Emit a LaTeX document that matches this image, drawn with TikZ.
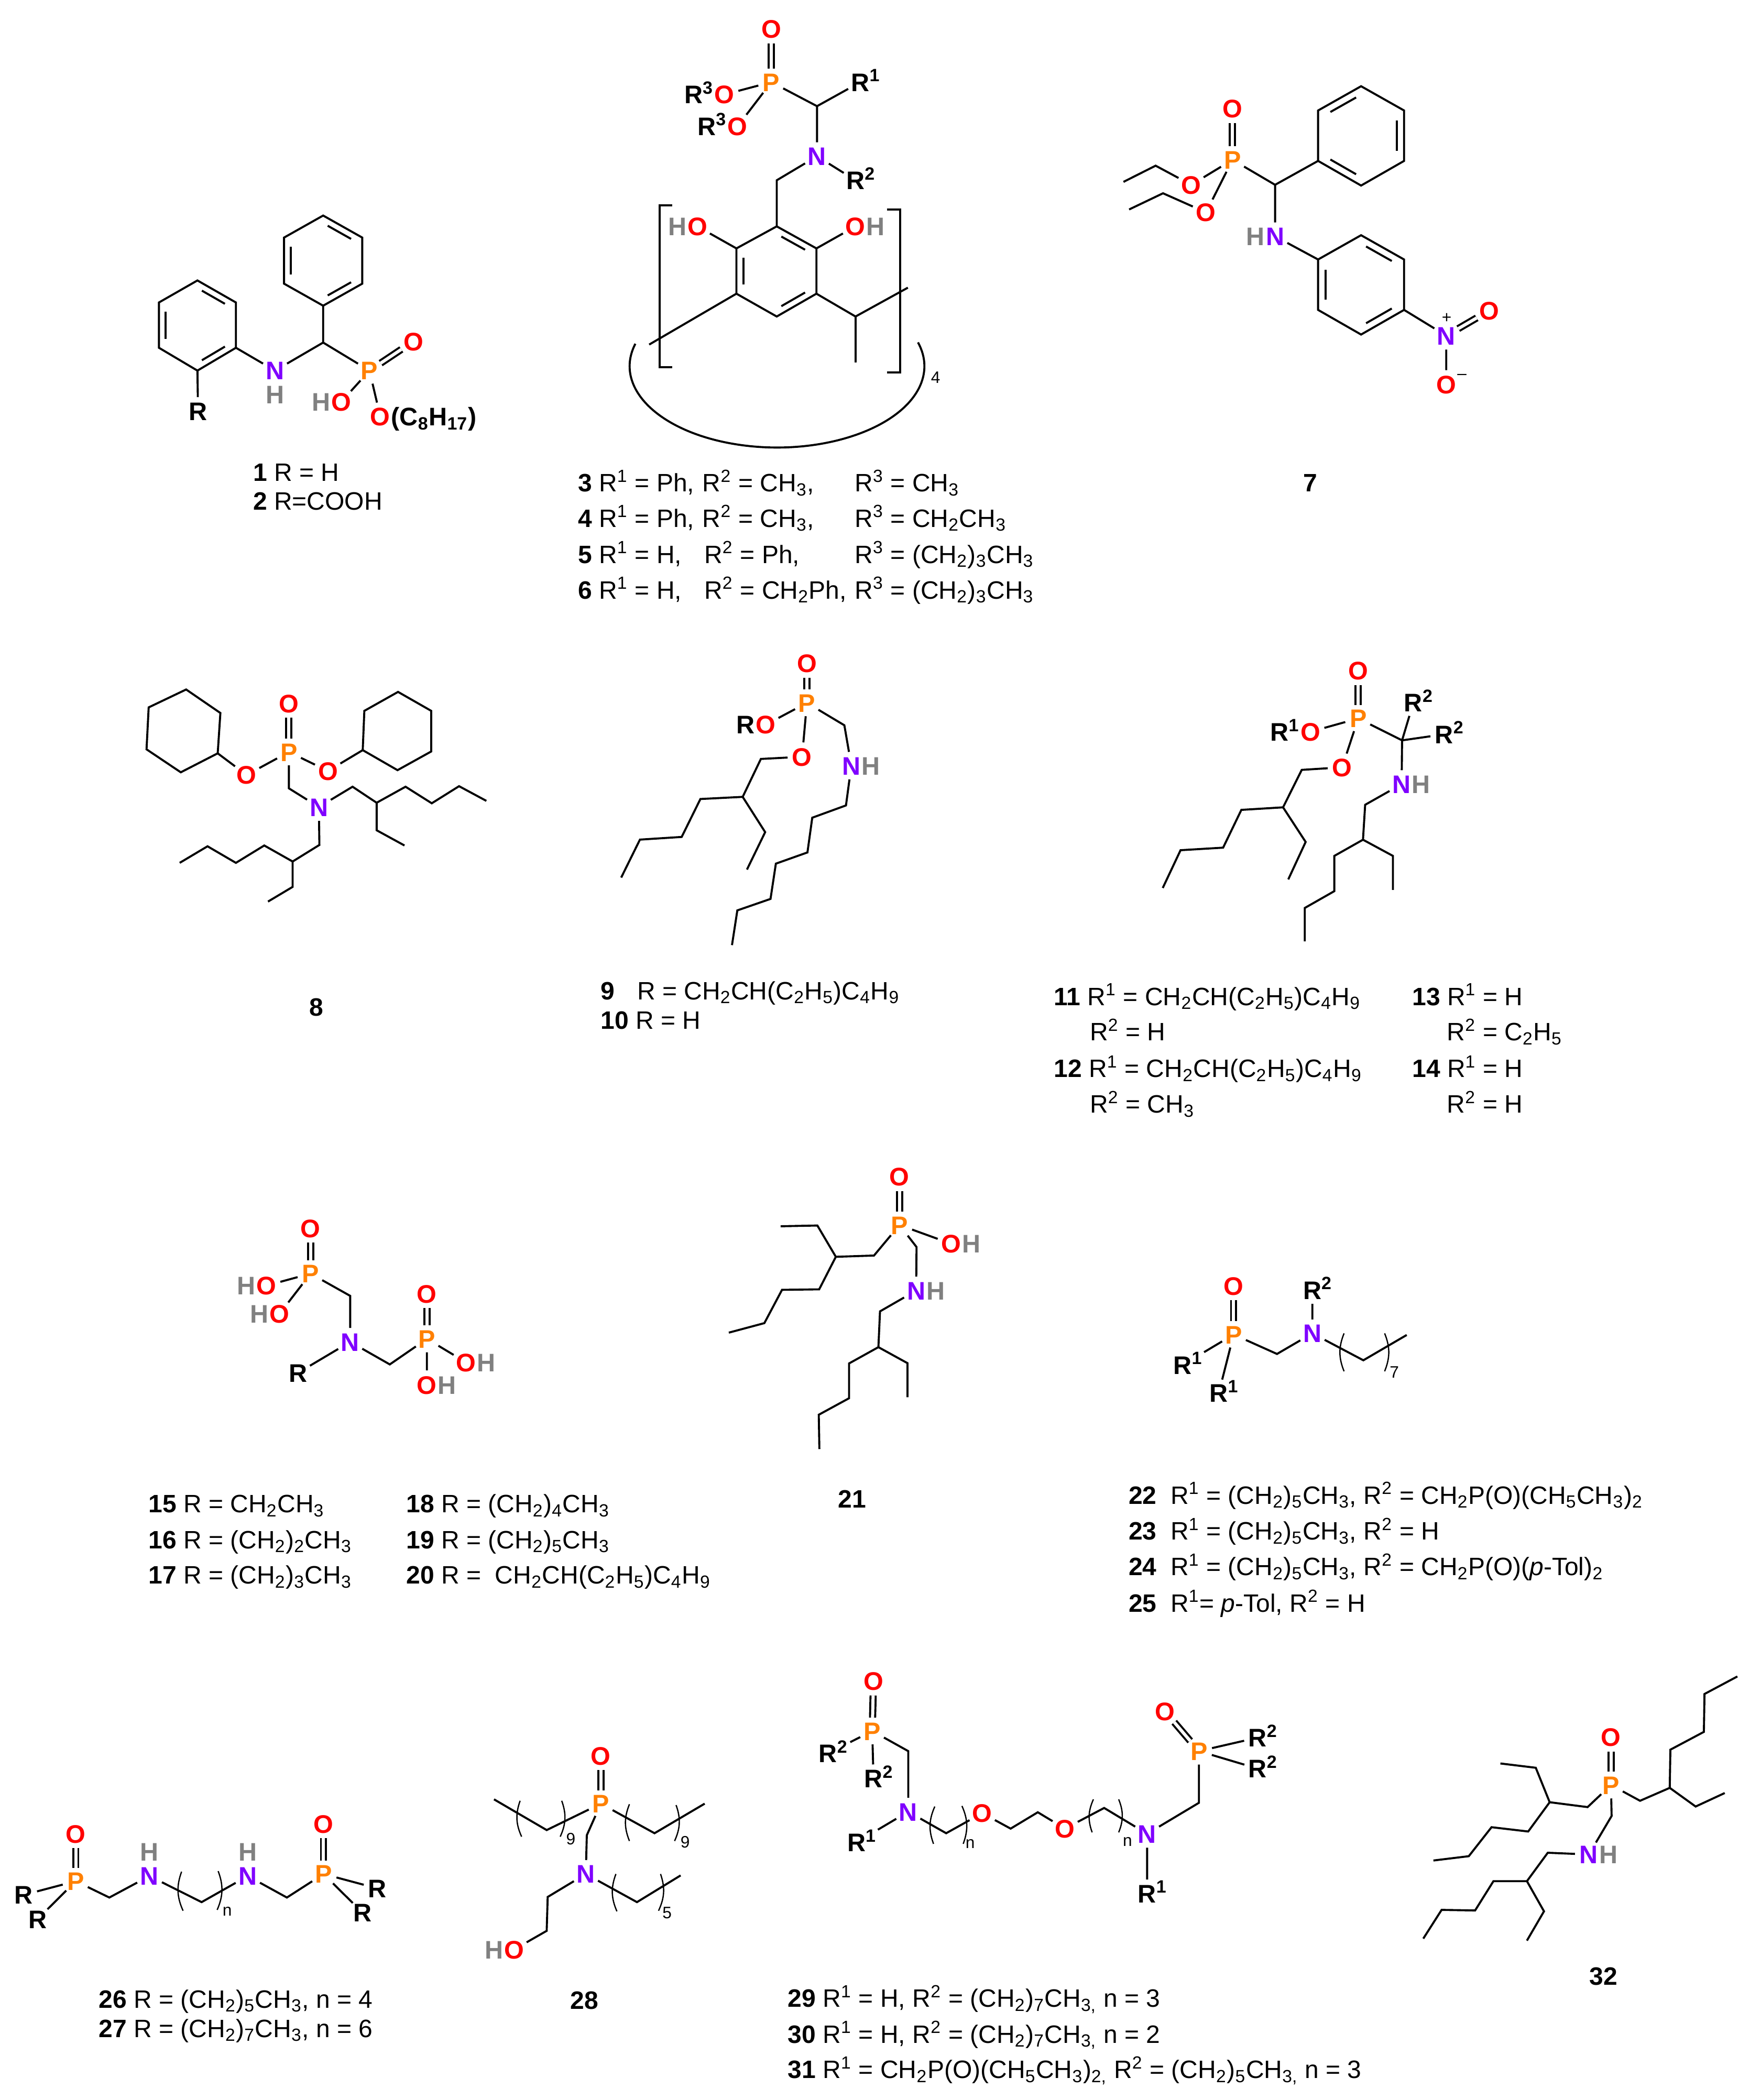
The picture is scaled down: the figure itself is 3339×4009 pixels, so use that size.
\documentclass[tikz,border=0pt]{standalone}
\usepackage{fontspec}
\setmainfont{Liberation Sans}
\usetikzlibrary{positioning,calc}
\definecolor{colO}{HTML}{FF0000}
\definecolor{colP}{HTML}{FF8000}
\definecolor{colN}{HTML}{7F00FF}
\definecolor{colH}{HTML}{808080}
\newcommand{\su}[1]{\textsuperscript{#1}}
\newcommand{\sd}[1]{\textsubscript{#1}}
\newcommand{\pts}[1]{\foreach \nm/\px/\py in {#1} {\coordinate (\nm) at (\px,\py);}}
\newcommand{\arb}[3]{\draw ($(#1)!.14!(#2)!.17!(#3)$) -- ($(#2)!.14!(#1)!.17!(#3)$);}
\tikzset{
    atom/.style={circle,inner sep=0pt,text height=9.9pt,text depth=0pt,font=\fontsize{13.8}{16}\selectfont\bfseries},
    atomO/.style={atom,text=colO},
    atomP/.style={atom,text=colP},
    atomN/.style={atom,text=colN},
    atomR/.style={atom,text=black},
    tag/.style={inner sep=0pt,text height=9.9pt,text depth=0pt,font=\fontsize{13.8}{16}\selectfont\bfseries},
    tagH/.style={tag,text=colH},
    txt/.style={anchor=west,inner sep=0pt,text height=9.8pt,text depth=0pt,font=\fontsize{13.65}{16}\selectfont},
    cmpd/.style={inner sep=0pt,font=\fontsize{13.65}{16}\selectfont\bfseries},
    idx/.style={inner sep=0pt,font=\fontsize{9}{10}\selectfont},
    dbl/.style={double,double distance=1.7pt},
    brk/.style={line width=.7pt},
    clear/.style={shorten <=6pt},
    cropA/.style={shift={(200,0)},x=0.01148cm,y=-0.00765cm},
    cropB/.style={shift={(2000,100)},x=0.00829cm,y=-0.007015cm},
    cropC/.style={shift={(200,1200)},x=0.010204cm,y=-0.005102cm},
    cropD/.style={shift={(1900,1200)},x=0.00829cm,y=-0.00606cm},
    cropE/.style={shift={(250,2200)},x=0.009566cm,y=-0.00574cm},
    cropF/.style={shift={(1350,2200)},x=0.003827cm,y=-0.004783cm},
    cropG/.style={shift={(2100,2400)},x=0.007653cm,y=-0.004464cm},
    cropH/.style={shift={(0,3150)},x=0.009566cm,y=-0.005478cm},
    cropI/.style={shift={(1450,3150)},x=0.012047cm,y=-0.005478cm},
}
\begin{document}
\begin{tikzpicture}[x=0.01cm,y=-0.01cm,line width=1.1pt]
    \useasboundingbox (0,0) rectangle (3339,4009);

    \begin{scope}[cropA]
        \pts{a1/363/538,b1/428/593,c1/428/708,d1/363/763,e1/298/708,f1/298/593,g1/363/650,h1/363/855,
            i1/154/700,j1/218/755,k1/218/868,l1/154/925,m1/90/868,n1/90/755,q1/154/812}
        \node[atomP] (P1) at (440,925) {P};
        \node[atomO] (O1) at (513,852) {O};
        \node[atomO] (Oa1) at (393,1003) {O};
        \node[tagH,left=-2.5pt of Oa1] (Ha1) {H};
        \node[atomO] (Ob1) at (458,1040) {O};
        \node[tag,right=-2.5pt of Ob1] (Rb1) {(C\sd{8}H\sd{17})};
        \node[atomN] (N1) at (283,925) {N};
        \node[tagH,below=0pt of N1] (Hb1) {H};
        \node[atomR] (R1) at (155,1026) {R};
        \draw (a1) -- (b1) -- (c1) -- (d1) -- (e1) -- (f1) -- cycle;
        \arb{a1}{b1}{g1} \arb{c1}{d1}{g1} \arb{e1}{f1}{g1}
        \draw (d1) -- (h1) -- (P1);
        \draw[dbl] (P1) -- (O1);
        \draw (P1) -- (Oa1);
        \draw (P1) -- (Ob1);
        \draw (h1) -- (N1) -- (k1);
        \draw (i1) -- (j1) -- (k1) -- (l1) -- (m1) -- (n1) -- cycle;
        \arb{i1}{j1}{q1} \arb{k1}{l1}{q1} \arb{m1}{n1}{q1}
        \draw (l1) -- (R1);
        \node[txt] (t1) at (245,1178) {\textbf{1} R = H};
        \node[txt] (t2) at (245,1250) {\textbf{2} R=COOH};

        \pts{a3/1184/265,b3/1117/450,c3/1117/565,d3/1183/620,e3/1183/733,f3/1117/790,g3/1050/733,h3/1050/620,
            u3/1117/677,i3/905/860,j3/1248/790,k3/1335/718,l3/1248/905,
            m3/943/513,n3/922/513,q3/922/917,r3/943/917,s3/1300/523,v3/1322/523,w3/1322/930,x3/1300/930,y3/882/858}
        \node[atomO] (O3) at (1108,72) {O};
        \node[atomP] (P3) at (1108,205) {P};
        \node[atomO] (Oa3) at (1030,236) {O};
        \node[tag,left=-2.5pt of Oa3] (Ra3) {R\su{3}};
        \node[atomO] (Ob3) at (1052,315) {O};
        \node[tag,left=-2.5pt of Ob3] (Rb3) {R\su{3}};
        \node[atomR] (Rc3) at (1256,205) {R\rlap{\su{1}}};
        \node[atomN] (N3) at (1184,390) {N};
        \node[atomR] (Rd3) at (1248,450) {R\rlap{\su{2}}};
        \node[atomO] (Oc3) at (985,565) {O};
        \node[tagH,left=-2.5pt of Oc3] (Hc3) {H};
        \node[atomO] (Od3) at (1248,565) {O};
        \node[tagH,right=-2.5pt of Od3] (Hd3) {H};
        \draw[dbl] (P3) -- (O3);
        \draw (Oa3) -- (P3) -- (Ob3);
        \draw (P3) -- (a3) -- (Rc3);
        \draw (a3) -- (N3) -- (Rd3);
        \draw (N3) -- (b3) -- (c3);
        \draw (c3) -- (d3) -- (e3) -- (f3) -- (g3) -- (h3) -- cycle;
        \arb{c3}{d3}{u3} \arb{e3}{f3}{u3} \arb{g3}{h3}{u3}
        \draw (h3) -- (Oc3);
        \draw (d3) -- (Od3);
        \draw (g3) -- (i3);
        \draw (e3) -- (j3) -- (k3);
        \draw (j3) -- (l3);
        \draw (m3) -- (n3) -- (q3) -- (r3);
        \draw (s3) -- (v3) -- (w3) -- (x3);
        \draw (y3) arc[start angle=196,end angle=-17,x radius=245,y radius=203];
        \node[idx] (sub3) at (1381,942) {4};
        \node[txt] (t3a) at (785,1205) {\textbf{3} R\su{1} = Ph,};
        \node[txt] (t3b) at (992,1205) {R\su{2} = CH\sd{3},};
        \node[txt] (t3c) at (1245,1205) {R\su{3} = CH\sd{3}};
        \node[txt] (t4a) at (785,1293) {\textbf{4} R\su{1} = Ph,};
        \node[txt] (t4b) at (992,1293) {R\su{2} = CH\sd{3},};
        \node[txt] (t4c) at (1245,1293) {R\su{3} = CH\sd{2}CH\sd{3}};
        \node[txt] (t5a) at (785,1383) {\textbf{5} R\su{1} = H,};
        \node[txt] (t5b) at (995,1383) {R\su{2} = Ph,};
        \node[txt] (t5c) at (1245,1383) {R\su{3} = (CH\sd{2})\sd{3}CH\sd{3}};
        \node[txt] (t6a) at (785,1472) {\textbf{6} R\su{1} = H,};
        \node[txt] (t6b) at (995,1472) {R\su{2} = CH\sd{2}Ph,};
        \node[txt] (t6c) at (1245,1472) {R\su{3} = (CH\sd{2})\sd{3}CH\sd{3}};
    \end{scope}

    \begin{scope}[cropB]
        \pts{a7/248/308,b7/174/352,c7/265/383,d7/187/427,e7/523/360,f7/622/295,g7/622/158,h7/721/92,i7/820/158,
            j7/820/295,k7/721/362,l7/721/227,m7/622/563,q7/721/497,r7/820/563,s7/820/700,t7/721/767,u7/622/700,v7/721/632}
        \node[atomO] (O7) at (425,153) {O};
        \node[atomP] (P7) at (425,292) {P};
        \node[atomO] (Oa7) at (330,360) {O};
        \node[atomO] (Ob7) at (364,435) {O};
        \node[atomN] (N7) at (523,500) {N};
        \node[tagH,left=-2.5pt of N7] (H7) {H};
        \node[atomN] (Nb7) at (917,770) {N};
        \node[atomO] (Oc7) at (1016,702) {O};
        \node[atomO] (Od7) at (917,903) {O};
        \node[idx] (pl7) at (918,722) {+};
        \node[idx] (mi7) at (953,882) {--};
        \draw[dbl] (P7) -- (O7);
        \draw (b7) -- (a7) -- (Oa7) -- (P7);
        \draw (d7) -- (c7) -- (Ob7) -- (P7);
        \draw (P7) -- (e7) -- (f7);
        \draw (f7) -- (g7) -- (h7) -- (i7) -- (j7) -- (k7) -- cycle;
        \arb{g7}{h7}{l7} \arb{i7}{j7}{l7} \arb{k7}{f7}{l7}
        \draw (e7) -- (N7) -- (m7);
        \draw (m7) -- (q7) -- (r7) -- (s7) -- (t7) -- (u7) -- cycle;
        \arb{q7}{r7}{v7} \arb{s7}{t7}{v7} \arb{u7}{m7}{v7}
        \draw (s7) -- (Nb7) -- (Od7);
        \draw[dbl] (Nb7) -- (Oc7);
        \node[cmpd] (t7) at (604,1170) {7};
    \end{scope}

    \begin{scope}[cropC]
        \pts{a8/152/228,b8/216/316,c8/211/467,d8/142/538,e8/78/452,f8/82/295,
            g8/548/237,h8/610/308,i8/610/460,j8/547/530,k8/482/455,l8/485/308,
            m8/344/598,q8/463/592,r8/508/652,s8/562/592,u8/611/654,v8/662/590,w8/713/645,x8/508/755,y8/560/812,
            aa8/401/810,ab8/351/872,ac8/298/812,ad8/245/877,ae8/192/815,af8/140/877,ag8/351/967,ah8/305/1022}
        \node[atomP] (P8) at (344,462) {P};
        \node[atomO] (O8) at (344,280) {O};
        \node[atomO] (Oa8) at (265,548) {O};
        \node[atomO] (Ob8) at (417,533) {O};
        \node[atomN] (N8) at (400,668) {N};
        \draw (a8) -- (b8) -- (c8) -- (d8) -- (e8) -- (f8) -- cycle;
        \draw (g8) -- (h8) -- (i8) -- (j8) -- (k8) -- (l8) -- cycle;
        \draw (c8) -- (Oa8) -- (P8) -- (Ob8) -- (k8);
        \draw[dbl] (P8) -- (O8);
        \draw (P8) -- (m8) -- (N8) -- (q8) -- (r8) -- (s8) -- (u8) -- (v8) -- (w8);
        \draw (r8) -- (x8) -- (y8);
        \draw (N8) -- (aa8) -- (ab8) -- (ac8) -- (ad8) -- (ae8) -- (af8);
        \draw (ab8) -- (ag8) -- (ah8);
        \node[cmpd] (t8) at (395,1417) {8};

        \pts{a9/1226/488,b9/1192/630,c9/1113/638,d9/1078/780,e9/1000/790,f9/965/932,g9/1234/762,h9/1200/902,
            i9/1382/362,j9/1385/662,k9/1322/708,l9/1313/838,m9/1254/880,q9/1244/1012,r9/1182/1055,s9/1172/1185}
        \node[atomO] (O9) at (1312,130) {O};
        \node[atomP] (P9) at (1312,278) {P};
        \node[atomO] (Oa9) at (1235,360) {O};
        \node[tag,left=-2.5pt of Oa9] (R9) {R};
        \node[atomO] (Ob9) at (1303,480) {O};
        \node[atomN] (N9) at (1395,513) {N};
        \node[tagH,right=-2.5pt of N9] (H9) {H};
        \draw[dbl] (P9) -- (O9);
        \draw (P9) -- (Oa9);
        \draw (P9) -- (Ob9) -- (a9) -- (b9) -- (c9) -- (d9) -- (e9) -- (f9);
        \draw (b9) -- (g9) -- (h9);
        \draw (P9) -- (i9) -- (N9) -- (j9) -- (k9) -- (l9) -- (m9) -- (q9) -- (r9) -- (s9);
        \node[txt] (t9a) at (925,1355) {\textbf{9}};
        \node[txt] (t9b) at (993,1355) {R = CH\sd{2}CH(C\sd{2}H\sd{5})C\sd{4}H\sd{9}};
        \node[txt] (t10) at (925,1465) {\textbf{10} R = H};
    \end{scope}

    \begin{scope}[cropD]
        \pts{a11/705/445,b11/662/563,c11/566/571,d11/524/690,e11/426/698,f11/385/817,g11/714/672,h11/674/790,
            i11/936/352,j11/851/555,k11/846/665,l11/780/716,m11/780/827,q11/712/880,r11/712/985,s11/915/716,u11/915/823}
        \node[atomO] (O11) at (835,132) {O};
        \node[atomP] (P11) at (835,283) {P};
        \node[atomO] (Oa11) at (725,325) {O};
        \node[tag,left=-2.5pt of Oa11] (Ra11) {R\su{1}};
        \node[atomO] (Ob11) at (798,437) {O};
        \node[atomR] (Rb11) at (962,233) {R\rlap{\su{2}}};
        \node[atomR] (Rc11) at (1033,333) {R\rlap{\su{2}}};
        \node[atomN] (N11) at (935,490) {N};
        \node[tagH,right=-2.5pt of N11] (H11) {H};
        \draw[dbl] (P11) -- (O11);
        \draw (P11) -- (Oa11);
        \draw (P11) -- (Ob11) -- (a11) -- (b11) -- (c11) -- (d11) -- (e11) -- (f11);
        \draw (b11) -- (g11) -- (h11);
        \draw (P11) -- (i11) -- (Rb11);
        \draw (i11) -- (Rc11);
        \draw (i11) -- (N11) -- (j11) -- (k11) -- (l11) -- (m11) -- (q11) -- (r11);
        \draw (k11) -- (s11) -- (u11);
        \node[txt] (t11a) at (132,1158) {\textbf{11} R\su{1} = CH\sd{2}CH(C\sd{2}H\sd{5})C\sd{4}H\sd{9}};
        \node[txt] (t11b) at (215,1270) {R\su{2} = H};
        \node[txt] (t12a) at (132,1385) {\textbf{12} R\su{1} = CH\sd{2}CH(C\sd{2}H\sd{5})C\sd{4}H\sd{9}};
        \node[txt] (t12b) at (215,1497) {R\su{2} = CH\sd{3}};
        \node[txt] (t13a) at (957,1158) {\textbf{13} R\su{1} = H};
        \node[txt] (t13b) at (1037,1270) {R\su{2} = C\sd{2}H\sd{5}};
        \node[txt] (t14a) at (957,1385) {\textbf{14} R\su{1} = H};
        \node[txt] (t14b) at (1037,1497) {R\su{2} = H};
    \end{scope}

    \begin{scope}[cropE]
        \pts{a15/437/477,b15/516/705}
        \node[atomO] (O15) at (358,252) {O};
        \node[atomP] (P15) at (358,403) {P};
        \node[atomO] (Oa15) at (270,443) {O};
        \node[tagH,left=-2.5pt of Oa15] (Ha15) {H};
        \node[atomO] (Ob15) at (296,537) {O};
        \node[tagH,left=-2.5pt of Ob15] (Hb15) {H};
        \node[atomN] (N15) at (437,630) {N};
        \node[atomR] (R15) at (333,733) {R};
        \node[atomP] (Pb15) at (590,620) {P};
        \node[atomO] (Oc15) at (590,470) {O};
        \node[atomO] (Od15) at (668,698) {O};
        \node[tagH,right=-2.5pt of Od15] (Hd15) {H};
        \node[atomO] (Oe15) at (590,773) {O};
        \node[tagH,right=-2.5pt of Oe15] (He15) {H};
        \draw[dbl] (P15) -- (O15);
        \draw (Oa15) -- (P15) -- (Ob15);
        \draw (P15) -- (a15) -- (N15) -- (R15);
        \draw (N15) -- (b15) -- (Pb15);
        \draw[dbl] (Pb15) -- (Oc15);
        \draw (Od15) -- (Pb15) -- (Oe15);
        \node[txt] (t15) at (33,1168) {\textbf{15} R = CH\sd{2}CH\sd{3}};
        \node[txt] (t16) at (33,1287) {\textbf{16} R = (CH\sd{2})\sd{2}CH\sd{3}};
        \node[txt] (t17) at (33,1405) {\textbf{17} R = (CH\sd{2})\sd{3}CH\sd{3}};
        \node[txt] (t18) at (547,1168) {\textbf{18} R = (CH\sd{2})\sd{4}CH\sd{3}};
        \node[txt] (t19) at (547,1287) {\textbf{19} R = (CH\sd{2})\sd{5}CH\sd{3}};
        \node[txt] (t20) at (547,1405) {\textbf{20} R = \ CH\sd{2}CH(C\sd{2}H\sd{5})C\sd{4}H\sd{9}};
    \end{scope}

    \begin{scope}[cropF]
        \pts{a21/830/412,b21/640/417,c21/548/292,d21/365/295,e21/557/547,f21/372/549,g21/284/682,h21/107/720,
            i21/1042/378,j21/860/635,k21/852/778,l21/706/843,m21/706/982,q21/555/1048,r21/558/1185,s21/997/842,u21/997/978}
        \node[atomO] (O21) at (957,97) {O};
        \node[atomP] (P21) at (957,290) {P};
        \node[atomO] (Oa21) at (1215,365) {O};
        \node[tagH,right=-2.5pt of Oa21] (Ha21) {H};
        \node[atomN] (N21) at (1040,552) {N};
        \node[tagH,right=-2.5pt of N21] (Hb21) {H};
        \draw[dbl] (P21) -- (O21);
        \draw (P21) -- (Oa21);
        \draw (P21) -- (a21) -- (b21) -- (c21) -- (d21);
        \draw (b21) -- (e21) -- (f21) -- (g21) -- (h21);
        \draw (P21) -- (i21) -- (N21) -- (j21) -- (k21) -- (l21) -- (m21) -- (q21) -- (r21);
        \draw (k21) -- (s21) -- (u21);
        \node[cmpd] (t21) at (722,1385) {21};
    \end{scope}

    \begin{scope}[cropG]
        \pts{a22/440/413,b22/655/440,c22/763/332,d22/607/325,e22/607/487,f22/708/325,g22/708/487}
        \node[atomO] (O22) at (332,122) {O};
        \node[atomP] (P22) at (332,330) {P};
        \node[atomR] (Ra22) at (205,460) {R\rlap{\su{1}}};
        \node[atomR] (Rb22) at (295,580) {R\rlap{\su{1}}};
        \node[atomN] (N22) at (528,325) {N};
        \node[atomR] (Rc22) at (528,140) {R\rlap{\su{2}}};
        \draw[dbl] (P22) -- (O22);
        \draw[clear] (Ra22) -- (P22);
        \draw (P22) -- (Rb22);
        \draw (P22) -- (a22) -- (N22) -- (Rc22);
        \draw (N22) -- (b22) -- (c22);
        \draw[brk] (d22) to[bend right=22] (e22);
        \draw[brk] (f22) to[bend left=22] (g22);
        \node[idx] (sub22) at (732,492) {7};
        \node[txt] (t22) at (68,1015) {\textbf{22}\ \ R\su{1} = (CH\sd{2})\sd{5}CH\sd{3}, R\su{2} = CH\sd{2}P(O)(CH\sd{5}CH\sd{3})\sd{2}};
        \node[txt] (t23) at (68,1168) {\textbf{23}\ \ R\su{1} = (CH\sd{2})\sd{5}CH\sd{3}, R\su{2} = H};
        \node[txt] (t24) at (68,1320) {\textbf{24}\ \ R\su{1} = (CH\sd{2})\sd{5}CH\sd{3}, R\su{2} = CH\sd{2}P(O)(\textit{p}-Tol)\sd{2}};
        \node[txt] (t25) at (68,1475) {\textbf{25}\ \ R\su{1}= \textit{p}-Tol, R\su{2} = H};
    \end{scope}

    \begin{scope}[cropH]
        \pts{a26/218/862,b26/402/878,c26/572/862,d26/362/772,e26/365/908,f26/435/770,g26/433/905}
        \node[atomO] (O26) at (151,640) {O};
        \node[atomP] (P26) at (151,805) {P};
        \node[atomR] (Ra26) at (47,853) {R};
        \node[atomR] (Rb26) at (75,937) {R};
        \node[atomN] (N26) at (298,787) {N};
        \node[tagH,above=0pt of N26] (Ha26) {H};
        \node[atomN] (Nb26) at (494,787) {N};
        \node[tagH,above=0pt of Nb26] (Hb26) {H};
        \node[atomP] (Pb26) at (645,780) {P};
        \node[atomO] (Ob26) at (645,605) {O};
        \node[atomR] (Rc26) at (752,830) {R};
        \node[atomR] (Rd26) at (723,915) {R};
        \draw[dbl] (P26) -- (O26);
        \draw (Ra26) -- (P26) -- (Rb26);
        \draw (P26) -- (a26) -- (N26) -- (b26) -- (Nb26) -- (c26) -- (Pb26);
        \draw[dbl] (Pb26) -- (Ob26);
        \draw (Rc26) -- (Pb26) -- (Rd26);
        \draw[brk] (d26) to[bend right=22] (e26);
        \draw[brk] (f26) to[bend left=22] (g26);
        \node[idx] (sub26) at (453,910) {n};
        \node[txt] (t26) at (195,1215) {\textbf{26} R = (CH\sd{2})\sd{5}CH\sd{3}, n = 4};
        \node[txt] (t27) at (195,1317) {\textbf{27} R = (CH\sd{2})\sd{7}CH\sd{3}, n = 6};

        \pts{a28/985/520,b28/1090/627,c28/1305/638,d28/1405/535,e28/1170/645,f28/1092/860,g28/1090/978,h28/1270/878,i28/1357/785,
            j28/1037/525,k28/1040/650,l28/1120/525,m28/1117/650,q28/1255/537,r28/1255/665,s28/1348/540,u28/1345/665,
            v28/1228/780,w28/1230/910,x28/1317/780,y28/1313/908}
        \node[atomO] (O28) at (1198,368) {O};
        \node[atomP] (P28) at (1198,535) {P};
        \node[atomN] (N28) at (1168,780) {N};
        \node[atomO] (Oa28) at (1025,1043) {O};
        \node[tagH,left=-2.5pt of Oa28] (H28) {H};
        \draw[dbl] (P28) -- (O28);
        \draw (a28) -- (b28) -- (P28) -- (c28) -- (d28);
        \draw (P28) -- (e28) -- (N28) -- (f28) -- (g28) -- (Oa28);
        \draw (N28) -- (h28) -- (i28);
        \draw[brk] (j28) to[bend right=22] (k28);
        \draw[brk] (l28) to[bend left=22] (m28);
        \draw[brk] (q28) to[bend right=22] (r28);
        \draw[brk] (s28) to[bend left=22] (u28);
        \draw[brk] (v28) to[bend right=22] (w28);
        \draw[brk] (x28) to[bend left=22] (y28);
        \node[idx] (suba28) at (1138,658) {9};
        \node[idx] (subb28) at (1366,668) {9};
        \node[idx] (subc28) at (1330,915) {5};
        \node[cmpd] (t28) at (1165,1220) {28};
    \end{scope}

    \begin{scope}[cropI]
        \pts{a29/235/352,b29/295/638,c29/397/622,d29/440/565,e29/545/550,f29/695/532,
            g29/277/545,h29/275/675,i29/320/543,j29/322/675,k29/528/520,l29/526/635,m29/568/520,q29/568/635}
        \node[atomO] (O29) at (180,108) {O};
        \node[atomP] (P29) at (178,282) {P};
        \node[atomR] (Ra29) at (108,360) {R\rlap{\su{2}}};
        \node[atomR] (Rb29) at (180,447) {R\rlap{\su{2}}};
        \node[atomN] (N29) at (235,563) {N};
        \node[atomR] (Rc29) at (153,670) {R\rlap{\su{1}}};
        \node[atomO] (Oa29) at (352,568) {O};
        \node[atomO] (Ob29) at (483,622) {O};
        \node[atomN] (Nb29) at (613,640) {N};
        \node[atomR] (Rd29) at (613,848) {R\rlap{\su{1}}};
        \node[atomP] (Pb29) at (695,352) {P};
        \node[atomO] (Oc29) at (641,213) {O};
        \node[atomR] (Re29) at (788,305) {R\rlap{\su{2}}};
        \node[atomR] (Rf29) at (788,413) {R\rlap{\su{2}}};
        \draw[dbl] (P29) -- (O29);
        \draw[clear] (Ra29) -- (P29);
        \draw (P29) -- (Rb29);
        \draw (P29) -- (a29) -- (N29);
        \draw[clear] (Rc29) -- (N29);
        \draw (N29) -- (b29) -- (Oa29) -- (c29) -- (d29) -- (Ob29) -- (e29) -- (Nb29) -- (Rd29);
        \draw (Nb29) -- (f29) -- (Pb29);
        \draw[dbl] (Pb29) -- (Oc29);
        \draw (Re29) -- (Pb29) -- (Rf29);
        \draw[brk] (g29) to[bend right=22] (h29);
        \draw[brk] (i29) to[bend left=22] (j29);
        \draw[brk] (k29) to[bend right=22] (l29);
        \draw[brk] (m29) to[bend left=22] (q29);
        \node[idx] (suba29) at (333,675) {n};
        \node[idx] (subb29) at (582,668) {n};
        \node[txt] (t29) at (43,1212) {\textbf{29} R\su{1} = H, R\su{2} = (CH\sd{2})\sd{7}CH\sd{3,} n = 3};
        \node[txt] (t30) at (43,1337) {\textbf{30} R\su{1} = H, R\su{2} = (CH\sd{2})\sd{7}CH\sd{3,} n = 2};
        \node[txt] (t31) at (43,1460) {\textbf{31} R\su{1} = CH\sd{2}P(O)(CH\sd{5}CH\sd{3})\sd{2,} R\su{2} = (CH\sd{2})\sd{5}CH\sd{3,} n = 3};

        \pts{a32/1310/547,b32/1250/530,c32/1228/410,d32/1172/395,e32/1216/632,f32/1158/617,g32/1122/718,h32/1066/733,
            i32/1393/525,j32/1440/480,k32/1441/347,l32/1494/285,m32/1495/153,q32/1547/92,r32/1481/545,s32/1527/498,
            u32/1348/578,v32/1247/706,w32/1214/805,x32/1161/805,y32/1132/907,aa32/1079/905,ab32/1050/1005,ac32/1241/910,ad32/1214/1012}
        \node[atomO] (O32) at (1347,303) {O};
        \node[atomP] (P32) at (1347,470) {P};
        \node[atomN] (N32) at (1312,712) {N};
        \node[tagH,right=-2.5pt of N32] (H32) {H};
        \draw[dbl] (P32) -- (O32);
        \draw (P32) -- (a32) -- (b32) -- (c32) -- (d32);
        \draw (b32) -- (e32) -- (f32) -- (g32) -- (h32);
        \draw (P32) -- (i32) -- (j32) -- (k32) -- (l32) -- (m32) -- (q32);
        \draw (j32) -- (r32) -- (s32);
        \draw (P32) -- (u32) -- (N32) -- (v32) -- (w32) -- (x32) -- (y32) -- (aa32) -- (ab32);
        \draw (w32) -- (ac32) -- (ad32);
        \node[cmpd] (t32) at (1335,1137) {32};
    \end{scope}
\end{tikzpicture}
\end{document}
